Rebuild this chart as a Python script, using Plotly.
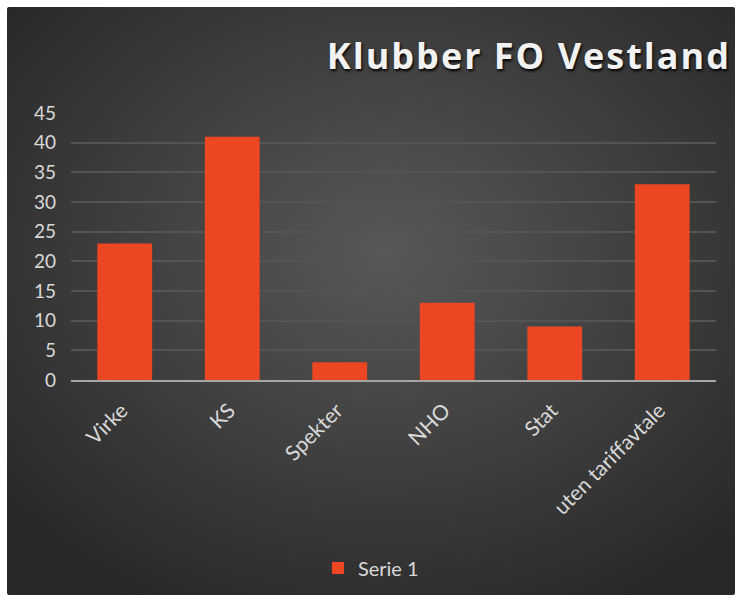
import base64
import plotly.graph_objects as go

categories = ["Virke", "KS", "Spekter", "NHO", "Stat", "uten tariffavtale"]
values = [23, 41, 3, 13, 9, 33]
series_name = "Serie 1"
title_text = "Klubber FO Vestland"

# dark radial backdrop like the original office chart
bg_svg = """<svg xmlns='http://www.w3.org/2000/svg' width='728' height='588' viewBox='0 0 728 588'>
<defs><radialGradient id='g' cx='52%' cy='42%' r='68%'>
<stop offset='0' stop-color='#585858'/><stop offset='1' stop-color='#282828'/>
</radialGradient></defs>
<rect x='0' y='0' width='728' height='588' rx='2' ry='2' fill='url(#g)'/></svg>"""
bg_src = "data:image/svg+xml;base64," + base64.b64encode(bg_svg.encode()).decode()

fig = go.Figure(go.Bar(
    x=categories,
    y=values,
    name=series_name,
    marker=dict(color="#EC4623", line=dict(width=0)),
    showlegend=True,
))

# plot area in pixels: x 71..716, y 113..380
pw, ph = 645, 267
fig.add_layout_image(
    source=bg_src, xref="paper", yref="paper",
    x=(7 - 71) / pw, y=(380 - 7) / ph,
    sizex=728 / pw, sizey=588 / ph,
    xanchor="left", yanchor="top", sizing="stretch", layer="below",
)

font_main = "Lato, 'Open Sans', sans-serif"
fig.update_layout(
    width=740, height=601,
    margin=dict(l=71, r=24, t=113, b=221),
    paper_bgcolor="white",
    plot_bgcolor="rgba(0,0,0,0)",
    bargap=0.49,
    title=dict(
        text=title_text, x=731 / 740, xref="container", xanchor="right",
        y=1 - 56 / 601, yanchor="middle",
        font=dict(family="'Open Sans', sans-serif", size=36, color="#f2f2f2", weight="bold",
                  shadow="1px 2px 3px #000000"),
    ),
    font=dict(family=font_main, color="#d9d9d9", size=19),
    legend=dict(orientation="h", x=0.465, xanchor="center", y=(380 - 568) / ph,
                yanchor="middle", font=dict(size=20, color="#d9d9d9"),
                bgcolor="rgba(0,0,0,0)"),
    xaxis=dict(tickangle=-45, showgrid=False, showline=True, linecolor="#a6a6a6",
               linewidth=2, tickfont=dict(size=21, color="#d9d9d9"),
               ticklabelstandoff=8, ticklabelshift=-3),
    yaxis=dict(range=[0, 45], dtick=5, showgrid=True, gridcolor="#545454", gridwidth=2,
               zeroline=False, showline=False, tickfont=dict(size=19, color="#d9d9d9"),
               ticklabelstandoff=14),
)

# page body margin would shift the chart by 8px; title is letter-spaced in the original
post = ("document.body.style.margin='0';"
        "document.querySelectorAll('.gtitle').forEach(function(t){t.style.letterSpacing='2px';});")
fig.write_html("out.html", post_script=post, config={"displayModeBar": False})
